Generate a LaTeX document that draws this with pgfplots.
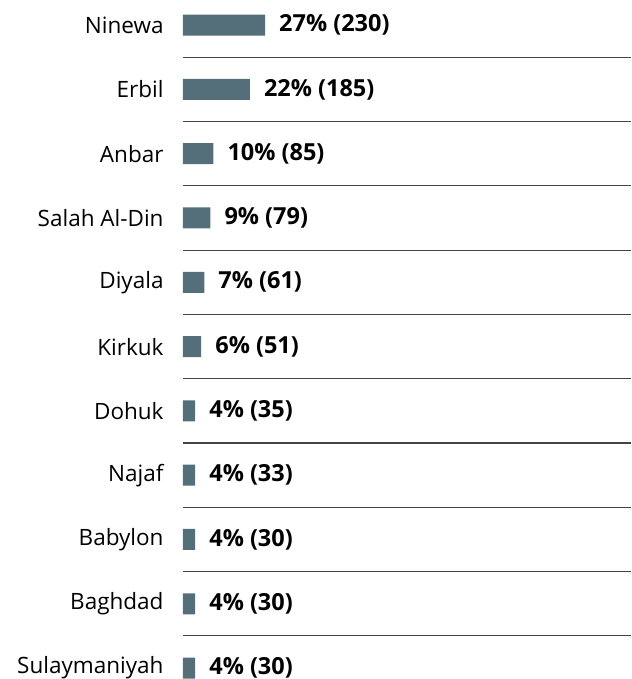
\documentclass[border=0pt]{standalone}
\usepackage{pgfplots}
\pgfplotsset{compat=1.18}
\usepackage{fontspec}
\setmainfont{Open Sans}
\definecolor{barcol}{RGB}{84,110,122}
\definecolor{rulecol}{RGB}{68,68,68}

\begin{document}
\begin{tikzpicture}
\begin{axis}[
  name=ax,
  xbar, bar width=21pt,
  scale only axis, width=448pt, height=679pt,
  xmin=0, xmax=147.5,
  ymin=-0.39, ymax=10.17, y dir=reverse,
  axis line style={draw=none},
  xtick=\empty,
  ytick={0,...,10},
  yticklabels={Ninewa,Erbil,Anbar,Salah Al-Din,Diyala,Kirkuk,Dohuk,Najaf,Babylon,Baghdad,Sulaymaniyah},
  ytick style={draw=none},
  yticklabel style={anchor=east, inner sep=0pt, xshift=-15pt, font=\fontsize{22.5}{22.5}\selectfont},
  extra y ticks={0.5,1.5,2.5,3.5,4.5,5.5,6.5,7.5,8.5,9.5},
  extra y tick labels={},
  extra y tick style={grid=major, major grid style={rulecol, line width=1.1pt}, tick style={draw=none}},
  clip=false,
  point meta=explicit symbolic,
  nodes near coords={\pgfplotspointmeta},
  every node near coord/.append style={anchor=west, inner sep=0pt, xshift=14pt, text=black, font=\bfseries\fontsize{23.5}{23.5}\selectfont},
]
\addplot[fill=barcol, draw=none] coordinates {
  (27,0) [27\% (230)]
  (22,1) [22\% (185)]
  (10,2) [10\% (85)]
  (9,3) [9\% (79)]
  (7,4) [7\% (61)]
  (6,5) [6\% (51)]
  (4,6) [4\% (35)]
  (4,7) [4\% (33)]
  (4,8) [4\% (30)]
  (4,9) [4\% (30)]
  (4,10) [4\% (30)]
};
\end{axis}
\pgfresetboundingbox
\path ([xshift=-183pt]ax.south west) rectangle (ax.north east);
\end{tikzpicture}
\end{document}
